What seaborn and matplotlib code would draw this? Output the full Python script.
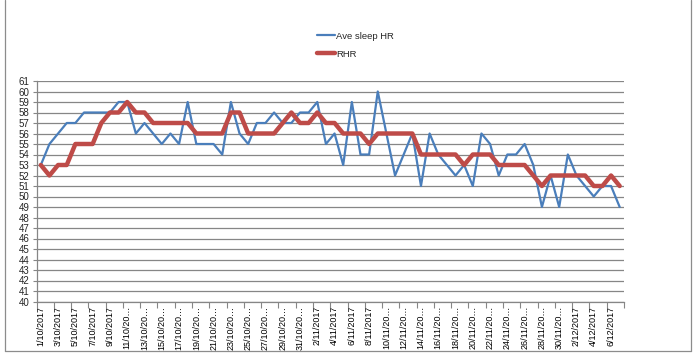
import matplotlib
matplotlib.use("Agg")
import matplotlib.pyplot as plt
import seaborn as sns
import pandas as pd
from matplotlib.lines import Line2D

# ---- data ----
ave_sleep_hr = [53, 55, 56, 57, 57, 58, 58, 58, 58, 59, 59, 56, 57, 56, 55, 56, 55, 59, 55, 55,
                55, 54, 59, 56, 55, 57, 57, 58, 57, 57, 58, 58, 59, 55, 56, 53, 59, 54, 54, 60,
                56, 52, 54, 56, 51, 56, 54, 53, 52, 53, 51, 56, 55, 52, 54, 54, 55, 53, 49, 52,
                49, 54, 52, 51, 50, 51, 51, 49]
rhr = [53, 52, 53, 53, 55, 55, 55, 57, 58, 58, 59, 58, 58, 57, 57, 57, 57, 57, 56, 56,
       56, 56, 58, 58, 56, 56, 56, 56, 57, 58, 57, 57, 58, 57, 57, 56, 56, 56, 55, 56,
       56, 56, 56, 56, 54, 54, 54, 54, 54, 53, 54, 54, 54, 53, 53, 53, 53, 52, 51, 52,
       52, 52, 52, 52, 51, 51, 52, 51]
tick_labels = ["1/10/2017", "3/10/2017", "5/10/2017", "7/10/2017", "9/10/2017",
               "11/10/20\u2026", "13/10/20\u2026", "15/10/20\u2026", "17/10/20\u2026", "19/10/20\u2026",
               "21/10/20\u2026", "23/10/20\u2026", "25/10/20\u2026", "27/10/20\u2026", "29/10/20\u2026",
               "31/10/20\u2026", "2/11/2017", "4/11/2017", "6/11/2017", "8/11/2017",
               "10/11/20\u2026", "12/11/20\u2026", "14/11/20\u2026", "16/11/20\u2026", "18/11/20\u2026",
               "20/11/20\u2026", "22/11/20\u2026", "24/11/20\u2026", "26/11/20\u2026", "28/11/20\u2026",
               "30/11/20\u2026", "2/12/2017", "4/12/2017", "6/12/2017"]
series_names = ["Ave sleep HR", "RHR"]

BLUE = "#4A7EBB"
RED = "#BE4B48"
GRID = "#868686"

sns.set_theme(style="white")
plt.rcParams["font.family"] = ["Liberation Sans", "DejaVu Sans"]

W, H = 696, 357
fig = plt.figure(figsize=(W / 100, H / 100), dpi=100)
fig.patch.set_facecolor("white")

left, right, top, bottom = 36.5, 624, 81, 301.5
ax = fig.add_axes([left / W, 1 - bottom / H, (right - left) / W, (bottom - top) / H])

df = pd.DataFrame({"idx": range(len(rhr)), "Ave sleep HR": ave_sleep_hr, "RHR": rhr})

ax.set_ylim(40, 61)
ax.set_xlim(-0.5, len(rhr) - 0.5)
ax.set_yticks(range(40, 62))
ax.yaxis.grid(True, color=GRID, lw=0.9)
ax.xaxis.grid(False)
ax.set_axisbelow(True)

sns.lineplot(data=df, x="idx", y="Ave sleep HR", ax=ax, color=BLUE, lw=1.6, legend=False)
sns.lineplot(data=df, x="idx", y="RHR", ax=ax, color=RED, lw=3.2, legend=False)

ax.set_xlabel("")
ax.set_ylabel("")
for s in ["top", "right"]:
    ax.spines[s].set_visible(False)
for s in ["left", "bottom"]:
    ax.spines[s].set_color(GRID)
    ax.spines[s].set_linewidth(0.9)

ax.set_xticks(range(0, len(rhr), 2))
ax.set_xticklabels(tick_labels, rotation=90, fontsize=6.5, va="top", ha="center")
ax.set_xticks([i - 0.5 for i in range(0, len(rhr) + 1, 2)], minor=True)
ax.tick_params(axis="x", which="major", length=0, pad=3, colors="black")
ax.tick_params(axis="x", which="minor", length=4, width=0.8, color=GRID, direction="out", bottom=True)
ax.tick_params(axis="y", which="major", length=3, width=0.8, color=GRID, labelsize=7, pad=2, left=True)

handles = [Line2D([], [], color=BLUE, lw=1.6), Line2D([], [], color=RED, lw=3.2)]
fig.legend(handles, series_names, loc="upper left", bbox_to_anchor=(312 / W, 1 - 27 / H),
           frameon=False, fontsize=6.8, handlelength=1.9, handletextpad=0.15, labelspacing=0.95,
           borderpad=0)

# chart-area border
bc = "#8c8c8c"
fig.add_artist(Line2D([5 / W, 5 / W], [1 - 351 / H, 1.0], color=bc, lw=0.9, transform=fig.transFigure))
fig.add_artist(Line2D([691 / W, 691 / W], [1 - 351 / H, 1.0], color=bc, lw=0.9, transform=fig.transFigure))
fig.add_artist(Line2D([5 / W, 691 / W], [1 - 351 / H, 1 - 351 / H], color=bc, lw=0.9, transform=fig.transFigure))

fig.savefig("out.png", dpi=100, facecolor="white")
